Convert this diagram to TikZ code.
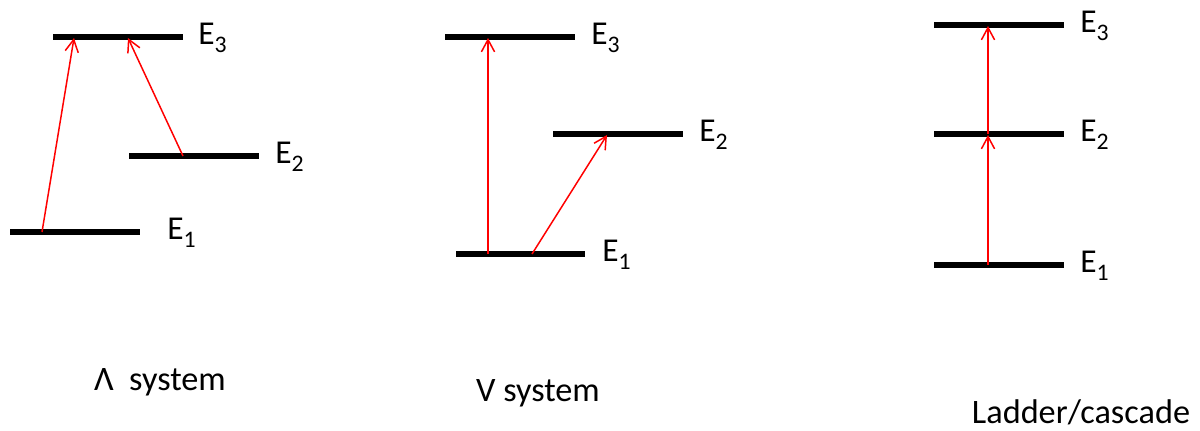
\documentclass[tikz,border=0pt]{standalone}
\usepackage{fontspec}
\setmainfont{Carlito}
\usetikzlibrary{arrows.meta}
\newcommand{\lvl}[1]{E\raisebox{-5pt}{\fontsize{13.5}{14}\selectfont #1}}
\tikzset{
  level/.style={line width=3.2pt, black},
  trans/.style={draw=red, line width=0.85pt, -{Straight Barb[length=7pt,width=7.5pt,line width=0.85pt]}},
  elabel/.style={anchor=base west, inner sep=0pt, font=\fontsize{19}{22}\selectfont},
  caption/.style={anchor=base, inner sep=0pt, font=\fontsize{19.5}{22}\selectfont}
}
\begin{document}
\begin{tikzpicture}[x=0.02cm, y=-0.02cm]
\useasboundingbox (0,0) rectangle (1200,430);
% ---- Lambda system ----
\coordinate (a3l) at (53,37);  \coordinate (a3r) at (183,37);
\coordinate (a2l) at (129,156); \coordinate (a2r) at (259,156);
\coordinate (a1l) at (10,232);  \coordinate (a1r) at (140,232);
\draw[level] (a3l) -- (a3r);
\draw[level] (a2l) -- (a2r);
\draw[level] (a1l) -- (a1r);
\coordinate (a1s) at (42,232);  \coordinate (a3t1) at (74,38);
\coordinate (a2s) at (183,156); \coordinate (a3t2) at (128,38);
\draw[trans] (a1s) -- (a3t1);
\draw[trans] (a2s) -- (a3t2);
\node[elabel] (aE3) at (198,44) {\lvl{3}};
\node[elabel] (aE2) at (275,163) {\lvl{2}};
\node[elabel] (aE1) at (167,239) {\lvl{1}};
\node[caption] (acap) at (160,390) {Λ\hspace{0.45em}system};
% ---- V system ----
\coordinate (v3l) at (445,37);  \coordinate (v3r) at (575,37);
\coordinate (v2l) at (553,134); \coordinate (v2r) at (683,134);
\coordinate (v1l) at (456,254); \coordinate (v1r) at (585,254);
\draw[level] (v3l) -- (v3r);
\draw[level] (v2l) -- (v2r);
\draw[level] (v1l) -- (v1r);
\coordinate (v1s1) at (488,254); \coordinate (v3t) at (488,38);
\coordinate (v1s2) at (532,254); \coordinate (v2t) at (607,135);
\draw[trans] (v1s1) -- (v3t);
\draw[trans] (v1s2) -- (v2t);
\node[elabel] (vE3) at (591,44) {\lvl{3}};
\node[elabel] (vE2) at (699,141) {\lvl{2}};
\node[elabel] (vE1) at (602,261) {\lvl{1}};
\node[caption] (vcap) at (538,401) {V system};
% ---- Ladder ----
\coordinate (l3l) at (934,25);  \coordinate (l3r) at (1064,25);
\coordinate (l2l) at (934,134); \coordinate (l2r) at (1064,134);
\coordinate (l1l) at (934,265); \coordinate (l1r) at (1064,265);
\draw[level] (l3l) -- (l3r);
\draw[level] (l2l) -- (l2r);
\draw[level] (l1l) -- (l1r);
\coordinate (l1s) at (988,265); \coordinate (l2t) at (988,135);
\coordinate (l2s) at (988,134); \coordinate (l3t) at (988,26);
\draw[trans] (l1s) -- (l2t);
\draw[trans] (l2s) -- (l3t);
\node[elabel] (lE3) at (1080,32) {\lvl{3}};
\node[elabel] (lE2) at (1080,141) {\lvl{2}};
\node[elabel] (lE1) at (1080,272) {\lvl{1}};
\node[caption] (lcap) at (1081,423) {Ladder/cascade};
\end{tikzpicture}
\end{document}
